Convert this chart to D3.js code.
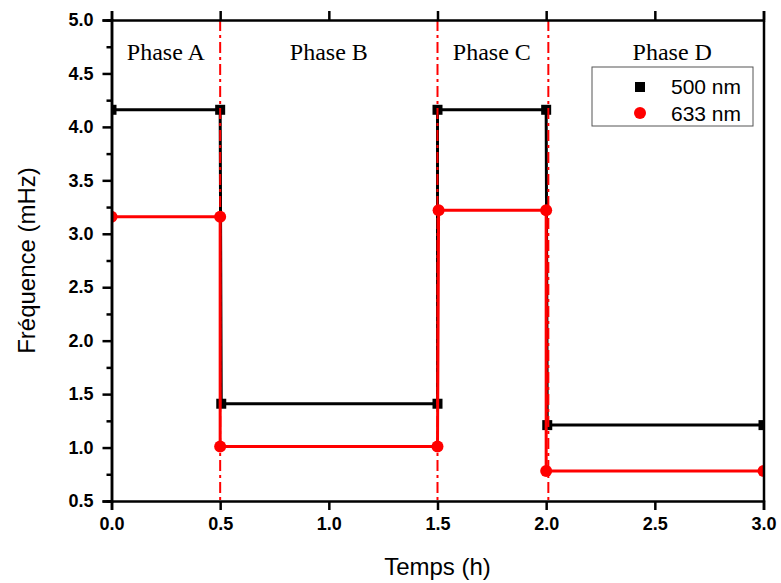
<!DOCTYPE html>
<html>
<head>
<meta charset="utf-8">
<script src="https://cdn.jsdelivr.net/npm/d3@7"></script>
<style>
  body { margin: 0; background: #fff; }
  svg { display: block; }
</style>
</head>
<body>
<div id="chart"></div>
<script>
// data
const timeBlack = [0, 0.5, 0.505, 1.5, 1.5, 2.0, 2.005, 3.0];
const freqBlack = [4.16, 4.16, 1.41, 1.41, 4.16, 4.16, 1.21, 1.21];
const timeRed = [0, 0.5, 0.5, 1.5, 1.505, 2.0, 2.0, 3.0];
const freqRed = [3.16, 3.16, 1.01, 1.01, 3.22, 3.22, 0.78, 0.78];
const phaseBounds = [0.5, 1.5, 2.01];
const phaseNames = ["Phase A", "Phase B", "Phase C", "Phase D"];
const phaseLabelX = [0.25, 1.0, 1.75, 2.58];
const xTicks = [0, 0.5, 1.0, 1.5, 2.0, 2.5, 3.0];
const yTicks = [0.5, 1.0, 1.5, 2.0, 2.5, 3.0, 3.5, 4.0, 4.5, 5.0];
const yMinor = [0.75, 1.25, 1.75, 2.25, 2.75, 3.25, 3.75, 4.25, 4.75];
const seriesNames = ["500 nm", "633 nm"];

const W = 781, H = 583;
const m = { left: 111.5, top: 20, right: 17.5, bottom: 82 };

const svg = d3.select("#chart").append("svg")
  .attr("width", W).attr("height", H);

const x = d3.scaleLinear().domain([0, 3]).range([m.left, W - m.right]);
const y = d3.scaleLinear().domain([0.5, 5]).range([H - m.bottom, m.top]);

svg.append("clipPath").attr("id", "plot")
  .append("rect")
  .attr("x", x(0)).attr("y", y(5))
  .attr("width", x(3) - x(0)).attr("height", y(0.5) - y(5));

const plot = svg.append("g").attr("clip-path", "url(#plot)");

const line = d3.line().x(d => x(d[0])).y(d => y(d[1]));

const black = d3.zip(timeBlack, freqBlack);
const red = d3.zip(timeRed, freqRed);

plot.append("path").datum(black)
  .attr("d", line).attr("fill", "none")
  .attr("stroke", "#000").attr("stroke-width", 3);

plot.selectAll(".sq").data(black).enter().append("rect")
  .attr("x", d => x(d[0]) - 5).attr("y", d => y(d[1]) - 5)
  .attr("width", 10).attr("height", 10).attr("fill", "#000");

plot.append("path").datum(red)
  .attr("d", line).attr("fill", "none")
  .attr("stroke", "#f00").attr("stroke-width", 3);

plot.selectAll(".dot").data(red).enter().append("circle")
  .attr("cx", d => x(d[0])).attr("cy", d => y(d[1]))
  .attr("r", 6).attr("fill", "#f00");

// phase boundaries
plot.selectAll(".bound").data(phaseBounds).enter().append("line")
  .attr("x1", d => x(d)).attr("x2", d => x(d))
  .attr("y1", y(5)).attr("y2", y(0.5))
  .attr("stroke", "#f00").attr("stroke-width", 2)
  .attr("stroke-dasharray", "11,4,3,4");

svg.selectAll(".phase").data(phaseNames).enter().append("text")
  .attr("x", (d, i) => x(phaseLabelX[i])).attr("y", 60)
  .attr("text-anchor", "middle")
  .style("font-family", "'Liberation Serif', serif")
  .style("font-size", "24px")
  .text(d => d);

// axes
const axisG = svg.append("g");

axisG.append("g")
  .attr("transform", "translate(0," + y(0.5) + ")")
  .call(d3.axisBottom(x).tickValues(xTicks).tickFormat(d3.format(".1f")).tickSize(9).tickPadding(7));

axisG.append("g")
  .attr("transform", "translate(0," + y(5) + ")")
  .call(d3.axisTop(x).tickValues(xTicks).tickFormat("").tickSize(9));

axisG.append("g")
  .attr("transform", "translate(" + x(0) + ",0)")
  .call(d3.axisLeft(y).tickValues(yTicks).tickFormat(d3.format(".1f")).tickSize(9).tickPadding(9));

axisG.append("g")
  .attr("transform", "translate(" + x(0) + ",0)")
  .call(d3.axisLeft(y).tickValues(yMinor).tickFormat("").tickSize(5));

axisG.append("g")
  .attr("transform", "translate(" + x(3) + ",0)")
  .call(d3.axisRight(y).tickValues([]).tickSizeOuter(0));

axisG.selectAll(".domain").attr("stroke", "#000").attr("stroke-width", 2.5);
axisG.selectAll(".tick line").attr("stroke", "#000").attr("stroke-width", 2.5);
axisG.selectAll(".tick text")
  .style("font-family", "'Liberation Sans', Arial, sans-serif")
  .style("font-weight", "bold")
  .style("font-size", "18px")
  .attr("fill", "#000");

// axis titles
svg.append("text")
  .attr("x", (x(0) + x(3)) / 2).attr("y", 575)
  .attr("text-anchor", "middle")
  .style("font-family", "'Liberation Sans', Arial, sans-serif")
  .style("font-size", "24px")
  .text("Temps (h)");

svg.append("text")
  .attr("transform", "translate(35," + ((y(0.5) + y(5)) / 2) + ") rotate(-90)")
  .attr("text-anchor", "middle")
  .style("font-family", "'Liberation Sans', Arial, sans-serif")
  .style("font-size", "24px")
  .text("Fréquence (mHz)");

// legend
const leg = svg.append("g").attr("transform", "translate(592,67)");
leg.append("rect")
  .attr("width", 161).attr("height", 59)
  .attr("fill", "#fff").attr("stroke", "#555").attr("stroke-width", 1);

leg.append("rect").attr("x", 43).attr("y", 15).attr("width", 10).attr("height", 10).attr("fill", "#000");
leg.append("circle").attr("cx", 48).attr("cy", 46).attr("r", 6).attr("fill", "#f00");

leg.selectAll(".lt").data(seriesNames).enter().append("text")
  .attr("x", 79).attr("y", (d, i) => 27 + i * 27)
  .style("font-family", "'Liberation Sans', Arial, sans-serif")
  .style("font-size", "21px")
  .text(d => d);
</script>
</body>
</html>
